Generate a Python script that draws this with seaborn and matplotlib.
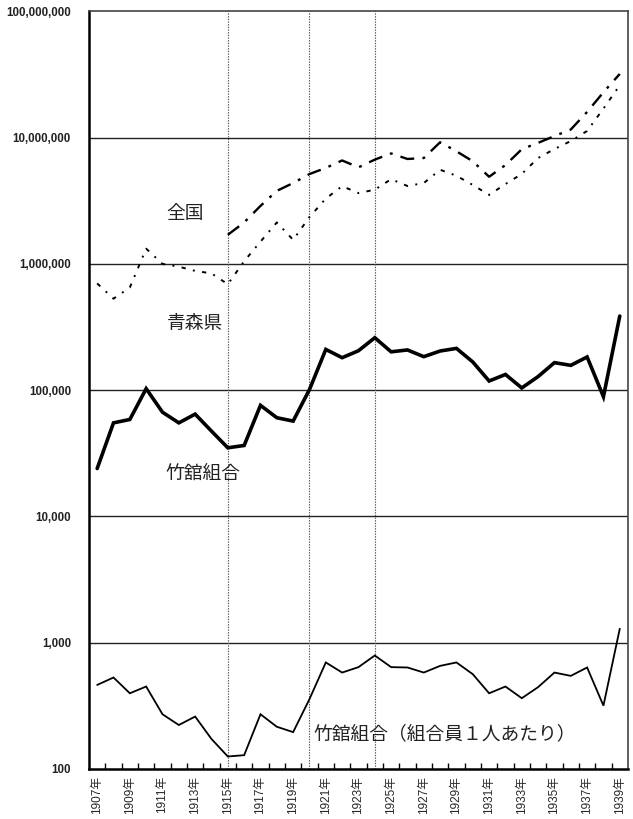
import numpy as np
import pandas as pd
import matplotlib
matplotlib.use("Agg")
import matplotlib.pyplot as plt
import matplotlib.ticker as mticker
import seaborn as sns

years = list(range(1907, 1940))

# 全国 (from 1915)
zenkoku = [np.nan] * 8 + [
    1.70e6, 2.13e6, 2.88e6, 3.79e6, 4.37e6, 5.15e6, 5.76e6, 6.60e6, 5.82e6,
    6.70e6, 7.50e6, 6.78e6, 6.90e6, 9.20e6, 7.80e6, 6.50e6, 4.90e6, 6.07e6,
    8.10e6, 9.10e6, 10.3e6, 11.6e6, 16.0e6, 22.9e6, 32.0e6]

# 青森県
aomori = [
    700e3, 530e3, 650e3, 1320e3, 1000e3, 950e3, 880e3, 840e3, 690e3, 1050e3,
    1500e3, 2130e3, 1550e3, 2350e3, 3290e3, 4130e3, 3640e3, 3870e3, 4690e3,
    4140e3, 4370e3, 5570e3, 4990e3, 4220e3, 3520e3, 4290e3, 5160e3, 6900e3,
    8130e3, 9400e3, 11300e3, 17000e3, 26000e3]

# 竹舘組合
kumiai = [
    23900, 55000, 58500, 102600, 66800, 55000, 64500, 47300, 34900, 36400,
    75700, 60400, 56800, 101000, 210000, 180600, 205000, 260000, 201000,
    208000, 184000, 204000, 214000, 167000, 118000, 133000, 104000, 128000,
    165000, 157000, 183000, 88700, 386000]

# 竹舘組合（組合員１人あたり）
per_member = [
    461, 528, 396, 448, 270, 222, 259, 172, 125, 128, 270, 215, 195, 356,
    695, 578, 638, 789, 638, 634, 578, 653, 695, 561, 396, 448, 362, 443,
    578, 544, 634, 316, 1285]

y_ticks = [100, 1_000, 10_000, 100_000, 1_000_000, 10_000_000, 100_000_000]
marker_years = [1915, 1920, 1924]

df = pd.DataFrame({
    "year": years,
    "zenkoku": zenkoku,
    "aomori": aomori,
    "kumiai": kumiai,
    "per_member": per_member,
})

sns.set_style("white")
plt.rcParams["font.family"] = ["Liberation Sans", "Noto Sans CJK JP", "DejaVu Sans"]

fig = plt.figure(figsize=(6.33, 8.19), dpi=100)
ax = fig.add_axes([0.1406, 0.0614, 0.8514, 0.9246])

ax.set_yscale("log")
ax.set_ylim(100, 1e8)
ax.set_xlim(1906.5, 1939.5)

# horizontal decade gridlines
for t in y_ticks[1:-1]:
    ax.axhline(t, color="#222222", lw=1.0, zorder=1)
# vertical reference lines
for yr in marker_years:
    ax.axvline(yr, color="#555555", lw=0.8, ls=(0, (1.2, 1.2)), zorder=1)

sns.lineplot(data=df, x="year", y="zenkoku", ax=ax, color="black",
             lw=1.7, linestyle=(0, (6, 3.5, 1.2, 3.5)), zorder=3)
sns.lineplot(data=df, x="year", y="aomori", ax=ax, color="black",
             lw=1.4, linestyle=(0, (2.2, 3.8, 1.0, 3.8)), zorder=3)
sns.lineplot(data=df, x="year", y="kumiai", ax=ax, color="black",
             lw=2.6, zorder=4, solid_joinstyle="miter")
sns.lineplot(data=df, x="year", y="per_member", ax=ax, color="black",
             lw=1.3, zorder=4, solid_joinstyle="miter")

ax.set_xlabel("")
ax.set_ylabel("")

# y axis
ax.yaxis.set_major_locator(mticker.FixedLocator(y_ticks))
ax.yaxis.set_minor_locator(mticker.NullLocator())
ax.yaxis.set_major_formatter(mticker.FuncFormatter(lambda v, p: f"{int(round(v)):,}"))
ax.tick_params(axis="y", which="major", length=0, pad=13, labelsize=8.3,
               labelcolor="#222222")
for lab in ax.get_yticklabels():
    lab.set_fontweight("bold")

# x axis: labels on odd years, tick marks between years
ax.xaxis.set_major_locator(mticker.FixedLocator(years[::2]))
ax.set_xticklabels([f"{y}年" for y in years[::2]], rotation=90,
                   fontsize=8.5, family=["Liberation Sans", "Noto Sans CJK JP"])
ax.xaxis.set_minor_locator(mticker.FixedLocator(np.arange(1907.5, 1939.5, 1.0)))
ax.tick_params(axis="x", which="major", length=0, pad=5)
ax.tick_params(axis="x", which="minor", length=4, width=1.0, direction="in",
               color="black", bottom=True)

for side in ["left", "bottom"]:
    ax.spines[side].set_color("black")
    ax.spines[side].set_linewidth(1.8)
for side in ["top", "right"]:
    ax.spines[side].set_color("#444444")
    ax.spines[side].set_linewidth(1.2)

# series labels
jp = ["Noto Sans CJK JP", "DejaVu Sans"]
txt_kw = dict(fontsize=13.5, color="#222222", family=jp,
              transform=fig.transFigure, ha="center", va="center")
fig.text(185 / 633, 1 - 213 / 819, "全国", **txt_kw)
fig.text(195 / 633, 1 - 324 / 819, "青森県", **txt_kw)
fig.text(203 / 633, 1 - 473 / 819, "竹舘組合", **txt_kw)
fig.text(445 / 633, 1 - 734 / 819, "竹舘組合（組合員１人あたり）", **txt_kw)

fig.savefig("out.png", dpi=100, facecolor="white")
